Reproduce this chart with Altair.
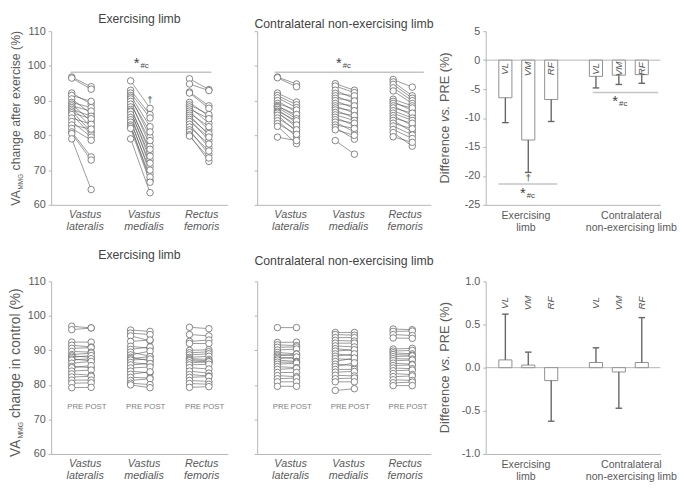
import json
import altair as alt
import pandas as pd

FONT = "Liberation Sans"
AX = "#b5b5b5"
TXT = "#5a5a5a"
TTL = "#444444"
SIG = "#c4c4c4"

# ------------------------------------------------------------------ data
muscle_abbr = ["VL", "VM", "RF"]
muscle_names = [["Vastus", "lateralis"], ["Vastus", "medialis"], ["Rectus", "femoris"]]
limb_names = [["Exercising", "limb"], ["Contralateral", "non-exercising limb"]]
panel_titles = ["Exercising limb", "Contralateral non-exercising limb"]

# Exercise session - exercising limb (VA_MMG %, PRE -> POST)
ex_ex_VL_pre = [96.8, 96.5, 92.2, 91.5, 90.5, 89.5, 89.0, 88.5, 88.0, 87.5, 87.0, 86.5, 86.0, 85.0, 84.0, 83.0, 82.0, 81.0, 80.5, 79.0]
ex_ex_VL_post = [94.0, 93.3, 89.0, 89.8, 86.2, 88.0, 84.0, 87.0, 82.5, 85.5, 81.0, 84.8, 80.2, 83.2, 79.5, 81.8, 78.6, 73.8, 72.9, 64.4]
ex_ex_VM_pre = [95.7, 93.0, 92.2, 91.5, 91.0, 90.5, 89.8, 89.0, 88.2, 87.5, 87.0, 86.8, 86.0, 85.2, 84.5, 83.8, 83.0, 82.5, 82.0, 79.0]
ex_ex_VM_post = [87.8, 86.0, 85.0, 82.5, 79.5, 81.0, 77.0, 78.5, 75.0, 76.0, 73.0, 74.0, 71.0, 72.0, 69.0, 70.0, 67.0, 68.0, 66.5, 63.5]
ex_ex_RF_pre = [96.3, 94.8, 92.5, 92.2, 89.5, 88.8, 88.2, 87.6, 87.0, 86.4, 85.8, 85.2, 84.6, 84.0, 83.2, 82.4, 81.6, 81.0, 80.2, 79.8]
ex_ex_RF_post = [93.2, 92.9, 88.5, 87.8, 85.5, 86.0, 83.5, 84.8, 81.5, 82.5, 80.0, 80.5, 78.5, 79.5, 76.5, 77.5, 74.5, 75.5, 72.5, 73.5]

# Exercise session - contralateral non-exercising limb
ex_co_VL_pre = [96.8, 96.6, 92.2, 91.5, 90.8, 90.0, 89.2, 88.6, 88.3, 88.0, 87.5, 87.0, 86.7, 86.4, 85.8, 85.0, 84.2, 83.4, 82.6, 79.5]
ex_co_VL_post = [94.8, 94.0, 89.6, 88.8, 88.0, 86.6, 87.3, 85.4, 86.0, 84.8, 83.6, 84.2, 82.3, 83.0, 81.0, 81.6, 79.6, 80.3, 77.6, 78.5]
ex_co_VM_pre = [94.9, 94.2, 93.0, 92.1, 91.4, 90.7, 90.0, 89.2, 88.5, 87.9, 87.3, 86.6, 85.9, 85.2, 84.5, 83.8, 83.0, 82.3, 81.6, 78.5]
ex_co_VM_post = [93.0, 92.3, 90.6, 91.4, 89.2, 89.9, 87.8, 88.5, 86.4, 87.1, 85.0, 85.7, 84.3, 82.8, 83.5, 81.0, 82.0, 78.9, 80.0, 74.6]
ex_co_RF_pre = [96.1, 95.4, 94.7, 93.7, 92.8, 90.4, 89.8, 89.2, 88.5, 87.9, 87.1, 86.4, 85.7, 85.0, 84.3, 83.5, 82.7, 81.7, 80.8, 79.6]
ex_co_RF_post = [93.9, 91.4, 90.7, 90.0, 89.2, 88.5, 87.1, 87.9, 85.7, 86.4, 85.0, 84.3, 82.8, 83.5, 81.0, 81.9, 80.1, 79.1, 76.9, 78.0]

# Control session - exercising limb
ct_ex_VL_pre = [97.0, 96.0, 92.4, 91.5, 90.6, 89.7, 88.8, 88.4, 88.0, 87.5, 87.2, 86.3, 85.4, 85.0, 84.0, 83.2, 82.3, 81.4, 80.5, 79.2]
ct_ex_VL_post = [96.5, 96.5, 92.4, 91.0, 90.8, 89.5, 89.2, 88.0, 88.5, 87.0, 87.6, 86.8, 85.0, 85.6, 84.3, 82.8, 82.5, 81.4, 80.6, 79.3]
ct_ex_VM_pre = [95.9, 95.0, 94.2, 92.6, 91.2, 90.3, 89.5, 88.7, 88.0, 87.6, 87.2, 86.5, 85.8, 84.9, 84.0, 83.1, 82.2, 81.3, 80.5, 80.0]
ct_ex_VM_post = [95.5, 94.6, 92.8, 93.0, 90.6, 91.0, 88.3, 89.8, 87.0, 88.2, 87.5, 86.0, 86.2, 85.2, 83.5, 83.8, 82.0, 81.8, 80.1, 79.2]
ct_ex_RF_pre = [96.7, 94.6, 92.6, 92.0, 90.0, 89.3, 88.7, 88.0, 87.6, 87.3, 87.0, 86.4, 85.8, 85.0, 84.0, 83.0, 82.2, 81.3, 80.4, 79.3]
ct_ex_RF_post = [96.3, 94.2, 93.0, 92.0, 90.2, 89.6, 89.0, 88.3, 87.4, 87.0, 86.6, 86.7, 86.0, 84.6, 83.4, 82.6, 82.4, 81.0, 80.2, 79.5]

# Control session - contralateral non-exercising limb
ct_co_VL_pre = [96.6, 92.3, 91.6, 90.9, 90.1, 89.4, 88.8, 88.4, 88.0, 87.6, 87.2, 86.6, 86.0, 85.3, 84.5, 83.6, 82.7, 81.8, 80.9, 79.6]
ct_co_VL_post = [96.6, 92.4, 91.4, 91.0, 90.4, 89.0, 88.5, 88.9, 87.6, 88.1, 86.8, 86.6, 86.3, 85.0, 84.8, 83.6, 82.4, 82.0, 80.9, 79.6]
ct_co_VM_pre = [95.2, 94.6, 93.7, 92.9, 92.1, 91.3, 90.5, 89.8, 89.0, 88.3, 87.6, 86.8, 86.0, 85.3, 84.5, 83.7, 82.8, 81.8, 80.9, 78.4]
ct_co_VM_post = [95.2, 94.4, 93.7, 92.7, 92.1, 91.0, 90.0, 90.2, 88.4, 89.0, 87.3, 87.8, 85.6, 86.4, 84.5, 83.9, 82.6, 82.0, 80.9, 78.9]
ct_co_RF_pre = [96.2, 95.5, 94.6, 93.6, 90.4, 89.8, 89.3, 88.8, 88.2, 87.6, 87.0, 86.3, 85.6, 84.9, 84.1, 83.3, 82.4, 81.5, 80.6, 79.8]
ct_co_RF_post = [96.0, 95.6, 94.3, 93.5, 90.6, 90.0, 89.0, 88.6, 88.4, 87.5, 87.2, 86.0, 85.8, 84.7, 84.3, 83.0, 82.6, 81.3, 80.8, 79.8]

# Difference vs. PRE (%): order VL, VM, RF (exercising limb) then VL, VM, RF (contralateral)
diff_exercise_mean = [-6.5, -13.8, -6.8, -2.8, -2.6, -2.5]
diff_exercise_sd = [4.3, 5.6, 3.8, 2.0, 1.6, 1.5]
diff_control_mean = [0.09, 0.03, -0.15, 0.06, -0.05, 0.06]
diff_control_sd = [0.53, 0.15, 0.47, 0.17, 0.42, 0.52]

# ------------------------------------------------------------------ helpers
CW = {' ': .278, '(': .333, ')': .333, '%': .889, '.': .278, '-': .333, 'A': .667, 'C': .722,
      'D': .722, 'E': .667, 'G': .778, 'M': .833, 'P': .667, 'R': .722, 'V': .667, 'a': .556,
      'b': .556, 'c': .5, 'e': .556, 'f': .278, 'g': .556, 'h': .556, 'i': .222, 'l': .222,
      'm': .833, 'n': .556, 'o': .556, 'r': .333, 's': .5, 't': .278, 'v': .5, 'x': .5}


def tw(s, size):
    return sum(CW.get(c, 0.556) for c in s) * size


def rot_title(pieces, x_base, y_start):
    """pieces: (text, fontSize, fontStyle, dx, gap_after) drawn bottom-to-top."""
    layers = []
    y = y_start
    for txt, size, style, dx, gap in pieces:
        layers.append(
            alt.Chart(pd.DataFrame({"t": [txt]}))
            .mark_text(angle=270, align="left", baseline="alphabetic", font=FONT,
                       fontSize=size, fontStyle=style, color=TXT)
            .encode(x=alt.value(x_base + dx), y=alt.value(y), text="t:N")
        )
        y -= tw(txt, size) + gap
    return layers


def star_layers(x, y, X, Y, xfield="x:Q", yfield="y:Q"):
    d = pd.DataFrame({"x": [x], "y": [y]})
    star = alt.Chart(d).mark_text(text="*", fontSize=15, font=FONT, color=TTL,
                                  align="center", baseline="alphabetic").encode(x=X(xfield), y=Y(yfield))
    sub = alt.Chart(d).mark_text(text="#c", fontSize=8, font=FONT, color=TTL, dx=4,
                                 align="left", baseline="alphabetic").encode(x=X(xfield), y=Y(yfield))
    return [star, sub]


PRE_OFF, POST_OFF = 0.35, 0.68
NAMES_EXPR = json.dumps(muscle_names) + "[floor(datum.value)]"
LIMB_EXPR = f"datum.value < 4 ? {json.dumps(limb_names[0])} : {json.dumps(limb_names[1])}"


def slope_df(pre_sets, post_sets):
    rows = []
    for m, (pre, post) in enumerate(zip(pre_sets, post_sets)):
        for s, (a, b) in enumerate(zip(pre, post)):
            sid = f"{muscle_abbr[m]}{s}"
            rows.append(dict(subject=sid, time="PRE", x=m + PRE_OFF, v=a))
            rows.append(dict(subject=sid, time="POST", x=m + POST_OFF, v=b))
    return pd.DataFrame(rows)


def slope_panel(pre_sets, post_sets, w, h, title, toff, ylabels, ytitle, annot, prepost):
    df = slope_df(pre_sets, post_sets)
    xs = alt.Scale(domain=[0, 3], nice=False, zero=False)
    ys = alt.Scale(domain=[60, 110], nice=False, zero=False)
    xax = alt.Axis(values=[0.57, 1.57, 2.55], labelExpr=NAMES_EXPR, ticks=False,
                   labelFontStyle="italic", labelFlush=False, labelPadding=4,
                   labelLineHeight=12.5, labelFontSize=11, labelOverlap=False, title=None, grid=False)
    yax = alt.Axis(values=[60, 70, 80, 90, 100, 110], labels=ylabels, tickSize=3, labelPadding=3,
                   labelFontSize=11, title=None, grid=False)

    def X(f):
        return alt.X(f, scale=xs, axis=xax)

    def Y(f):
        return alt.Y(f, scale=ys, axis=yax)

    base = alt.Chart(df)
    layers = [
        base.mark_line(color="#555555", strokeWidth=0.6).encode(x=X("x:Q"), y=Y("v:Q"), detail="subject:N"),
        base.mark_point(shape="circle", filled=True, fill="white", stroke="#666666",
                        strokeWidth=0.8, size=44, opacity=1).encode(x=X("x:Q"), y=Y("v:Q")),
    ]
    if annot:
        x0, x1, yl = annot["line"]
        layers.append(alt.Chart(pd.DataFrame({"x0": [x0], "x1": [x1], "y": [yl]}))
                      .mark_rule(color=SIG, strokeWidth=1.6)
                      .encode(x=X("x0:Q"), x2="x1:Q", y=Y("y:Q")))
        layers += star_layers(*annot["star"], X, Y)
        if "dagger" in annot:
            dx_, dy_ = annot["dagger"]
            layers.append(alt.Chart(pd.DataFrame({"x": [dx_], "y": [dy_]}))
                          .mark_text(text="†", fontSize=10, font=FONT, color=TTL, baseline="alphabetic")
                          .encode(x=X("x:Q"), y=Y("y:Q")))
    if prepost:
        pp = []
        for m in range(3):
            pp.append(dict(x=m + PRE_OFF + 0.06, y=73.1, t="PRE"))
            pp.append(dict(x=m + POST_OFF + 0.08, y=73.1, t="POST"))
        layers.append(alt.Chart(pd.DataFrame(pp)).mark_text(fontSize=8, font=FONT, color="#808080",
                                                            baseline="alphabetic")
                      .encode(x=X("x:Q"), y=Y("y:Q"), text="t:N"))
    if ytitle:
        layers += ytitle
    return alt.layer(*layers).properties(
        width=w, height=h,
        title=alt.TitleParams(title, fontSize=12.5, font=FONT, fontWeight="normal", color=TTL,
                              offset=toff, frame="group", anchor="middle"))


BAR_POS = [g * 4.15 + 0.9 + m * 1.05 for g in range(2) for m in range(3)]


def bar_panel(means, sds, w, h, domain, ticks, label_expr, abbr_y, toff, title, annot):
    rows = []
    for i, (mu, sd) in enumerate(zip(means, sds)):
        p = BAR_POS[i]
        end = mu + (sd if mu >= 0 else -sd)
        rows.append(dict(p=p, x0=p - 0.3, x1=p + 0.3, c0=p - 0.15, c1=p + 0.15,
                         mean=mu, end=end, base=0.0, lab=muscle_abbr[i % 3], ly=abbr_y))
    df = pd.DataFrame(rows)
    xs = alt.Scale(domain=[0, 8], nice=False, zero=False)
    ys = alt.Scale(domain=domain, nice=False, zero=False)
    xax = alt.Axis(values=[1.82, 6.65], labelExpr=LIMB_EXPR, ticks=False, labelFlush=False,
                   labelPadding=5, labelLineHeight=12.5, labelFontSize=10.8, labelOverlap=False,
                   title=None, grid=False)
    yax = alt.Axis(values=ticks, labelExpr=label_expr, tickSize=3, labelPadding=3, labelFontSize=11,
                   title=None, grid=False)

    def X(f):
        return alt.X(f, scale=xs, axis=xax)

    def Y(f):
        return alt.Y(f, scale=ys, axis=yax)

    base = alt.Chart(df)
    layers = [
        alt.Chart(pd.DataFrame({"z": [0.0]})).mark_rule(color=AX, strokeWidth=1)
        .encode(y=Y("z:Q"), x=alt.value(0), x2=alt.value(w)),
        base.mark_bar(fill="white", stroke="#8f8f8f", strokeWidth=1)
        .encode(x=X("x0:Q"), x2="x1:Q", y=Y("mean:Q"), y2="base:Q"),
        base.mark_rule(color="#666666", strokeWidth=1.4).encode(x=X("p:Q"), y=Y("mean:Q"), y2="end:Q"),
        base.mark_rule(color="#666666", strokeWidth=1.4).encode(x=X("c0:Q"), x2="c1:Q", y=Y("end:Q")),
        base.mark_text(angle=270, fontStyle="italic", font=FONT, fontSize=10, color=TXT,
                       align="center", baseline="middle").encode(x=X("p:Q"), y=Y("ly:Q"), text="lab:N"),
    ]
    for a in annot:
        if a[0] == "line":
            _, x0, x1, yl = a
            layers.append(alt.Chart(pd.DataFrame({"x0": [x0], "x1": [x1], "y": [yl]}))
                          .mark_rule(color=SIG, strokeWidth=1.6)
                          .encode(x=X("x0:Q"), x2="x1:Q", y=Y("y:Q")))
        elif a[0] == "star":
            layers += star_layers(a[1], a[2], X, Y)
        elif a[0] == "dagger":
            layers.append(alt.Chart(pd.DataFrame({"x": [a[1]], "y": [a[2]]}))
                          .mark_text(text="†", fontSize=10, font=FONT, color=TTL, baseline="alphabetic")
                          .encode(x=X("x:Q"), y=Y("y:Q")))
    # y title: "Difference vs. PRE (%)" with italic "vs."
    fs = 13
    sp = tw(" ", fs)
    pieces = [("Difference", fs, "normal", 0, sp), ("vs.", fs, "italic", 0, sp), ("PRE (%)", fs, "normal", 0, 0)]
    total = sum(tw(p[0], p[1]) for p in pieces) + 2 * sp
    layers += rot_title(pieces, -37, h / 2 + total / 2)
    return alt.layer(*layers).properties(
        width=w, height=h,
        title=alt.TitleParams(title, fontSize=12.5, font=FONT, color=TTL, offset=toff, frame="group"))


W1, W2, W3 = 180, 177, 178
HT, HB = 177, 176

top_title = rot_title([("VA", 12.5, "normal", 0, 0), ("MMG", 6.5, "normal", 3, tw(" ", 12.5)),
                       ("change after exercise (%)", 12.5, "normal", 0, 0)], -32, HT + 1)
bot_title = rot_title([("VA", 14, "normal", 0, 0), ("MMG", 7, "normal", 3, tw(" ", 14)),
                       ("change in control (%)", 14, "normal", 0, 0)], -32, HB + 3)

p11 = slope_panel([ex_ex_VL_pre, ex_ex_VM_pre, ex_ex_RF_pre], [ex_ex_VL_post, ex_ex_VM_post, ex_ex_RF_post],
                  W1, HT, panel_titles[0], 0, True, top_title,
                  {"line": (0.33, 2.72, 98.2), "star": (1.45, 99.4), "dagger": (1.68, 89.2)}, False)
p12 = slope_panel([ex_co_VL_pre, ex_co_VM_pre, ex_co_RF_pre], [ex_co_VL_post, ex_co_VM_post, ex_co_RF_post],
                  W2, HT, panel_titles[1], 0, False, None,
                  {"line": (0.30, 2.88, 98.2), "star": (1.41, 99.4)}, False)
TOP_FMT = "datum.value < 0 ? '-' + abs(datum.value) : '' + datum.value"
p13 = bar_panel(diff_exercise_mean, diff_exercise_sd, W3, HT, [-25, 5], [-25, -20, -15, -10, -5, 0, 5],
                TOP_FMT, -1.5, 0, "",
                [("line", 0.58, 3.28, -21.4), ("star", 1.7, -23.8), ("dagger", BAR_POS[1], -20.8),
                 ("line", 4.9, 7.9, -5.6), ("star", 5.93, -8.0)])

p21 = slope_panel([ct_ex_VL_pre, ct_ex_VM_pre, ct_ex_RF_pre], [ct_ex_VL_post, ct_ex_VM_post, ct_ex_RF_post],
                  W1, HB, panel_titles[0], 14, True, bot_title, None, True)
p22 = slope_panel([ct_co_VL_pre, ct_co_VM_pre, ct_co_RF_pre], [ct_co_VL_post, ct_co_VM_post, ct_co_RF_post],
                  W2, HB, panel_titles[1], 14, False, None, None, True)
BOT_FMT = "datum.value < 0 ? '-' + format(abs(datum.value), '.1f') : format(datum.value, '.1f')"
p23 = bar_panel(diff_control_mean, diff_control_sd, W3, HB, [-1, 1], [-1, -0.5, 0, 0.5, 1],
                BOT_FMT, 0.75, 14, "", [])

row1 = alt.hconcat(alt.hconcat(p11, p12, spacing=26), p13, spacing=5)
row2 = alt.hconcat(alt.hconcat(p21, p22, spacing=26), p23, spacing=5)

chart = alt.vconcat(row1, row2, spacing=16).properties(padding=0).configure_view(stroke=None).configure_axis(
    domainColor=AX, tickColor=AX, labelColor=TXT, labelFont=FONT, domainWidth=1, tickWidth=1
).configure_title(font=FONT, fontWeight="normal")

chart.save("out.html", embed_options={"renderer": "svg", "actions": False})
